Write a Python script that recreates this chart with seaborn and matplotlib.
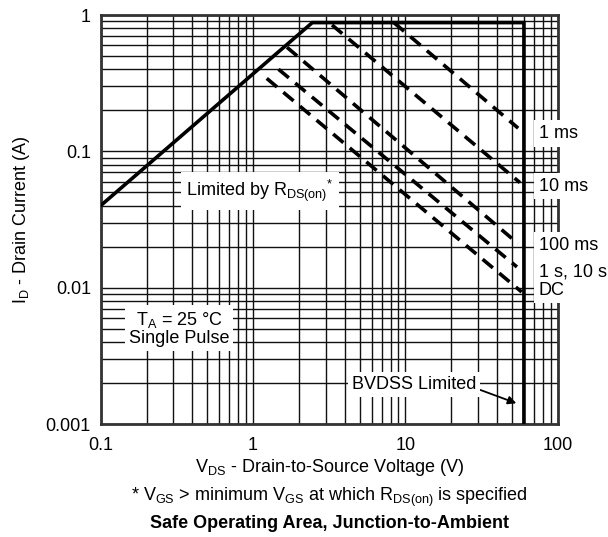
import numpy as np
import pandas as pd
import matplotlib
matplotlib.use("Agg")
import matplotlib.pyplot as plt
import seaborn as sns

# ---- data ----
soa_v = [0.1, 2.45, 60.0, 60.0]
soa_i = [0.04, 0.88, 0.88, 0.001]

pulse_labels = ["1 ms", "10 ms", "100 ms", "1 s, 10 s", "DC"]
pulse_v_start = [8.4, 3.3, 1.67, 1.47, 1.23]
pulse_i_start = [0.88, 0.845, 0.58, 0.40, 0.343]
pulse_v_end = [55.0, 56.5, 55.0, 54.0, 58.0]
pulse_i_end = [0.148, 0.059, 0.021, 0.0142, 0.0093]

x_ticks = [0.1, 1, 10, 100]
x_tick_labels = ["0.1", "1", "10", "100"]
y_ticks = [0.001, 0.01, 0.1, 1]
y_tick_labels = ["0.001", "0.01", "0.1", "1"]

sns.set_style("white")
plt.rcParams["font.family"] = ["Liberation Sans", "DejaVu Sans"]
plt.rcParams["mathtext.fontset"] = "custom"
plt.rcParams["mathtext.rm"] = "Liberation Sans"
plt.rcParams["mathtext.it"] = "Liberation Sans:italic"
plt.rcParams["mathtext.bf"] = "Liberation Sans:bold"
plt.rcParams["mathtext.default"] = "regular"
plt.rcParams["text.color"] = "black"
plt.rcParams["axes.labelcolor"] = "black"
plt.rcParams["xtick.color"] = "black"
plt.rcParams["ytick.color"] = "black"

fig = plt.figure(figsize=(6.08, 5.37), dpi=100)
ax = fig.add_axes([0.1656, 0.2104, 0.9173 - 0.1656, 0.972 - 0.2104])
ax.set_xscale("log")
ax.set_yscale("log")
ax.set_xlim(0.1, 100)
ax.set_ylim(0.001, 1)

ax.grid(True, which="both", color="#111111", lw=1.0)
ax.set_axisbelow(True)
for s in ax.spines.values():
    s.set_color("#333333")
    s.set_linewidth(2.0)

# boundary
df_soa = pd.DataFrame({"V": soa_v, "I": soa_i})
sns.lineplot(data=df_soa, x="V", y="I", ax=ax, sort=False, estimator=None,
             color="black", lw=2.6, solid_joinstyle="miter", zorder=4)

# pulse lines
for lab, v0, i0, v1, i1 in zip(pulse_labels, pulse_v_start, pulse_i_start,
                               pulse_v_end, pulse_i_end):
    d = pd.DataFrame({"V": [v0, v1], "I": [i0, i1]})
    sns.lineplot(data=d, x="V", y="I", ax=ax, sort=False, estimator=None,
                 color="black", lw=2.6, linestyle=(0, (3.7, 2.3)), zorder=3)

ax.set_xticks(x_ticks)
ax.set_xticklabels(x_tick_labels)
ax.set_yticks(y_ticks)
ax.set_yticklabels(y_tick_labels)
ax.tick_params(which="both", length=0, labelsize=13, colors="black")
ax.tick_params(axis="x", pad=9)
ax.tick_params(axis="y", pad=7)

ax.set_xlabel("")
ax.set_ylabel("I$_{D}$ - Drain Current (A)", fontsize=13, labelpad=10)

# right-side labels: white boxes first, then text on top
lab_y = [0.1356, 0.0556, 0.0205, 0.0131, 0.0096]
for lab, yy in zip(pulse_labels, lab_y):
    ax.text(75, yy, lab, ha="left", va="center", fontsize=13, color="none",
            bbox=dict(facecolor="white", edgecolor="none", pad=3.5),
            zorder=6, clip_on=False)
for lab, yy in zip(pulse_labels, lab_y):
    ax.text(75, yy, lab, ha="left", va="center", fontsize=13,
            zorder=7, clip_on=False)

ax.text(1.11, 0.051, "Limited by R$_{DS(on)}{}^{*}$", ha="center", va="center",
        fontsize=13, bbox=dict(facecolor="white", edgecolor="none", pad=4), zorder=5)
ax.text(0.327, 0.0050, "T$_{A}$ = 25 °C\nSingle Pulse", ha="center", va="center",
        fontsize=13, linespacing=1.0,
        bbox=dict(facecolor="white", edgecolor="none", pad=3), zorder=5)
ax.annotate("BVDSS Limited", xy=(53.5, 0.00142), xytext=(11.4, 0.00196),
            ha="center", va="center", fontsize=13,
            bbox=dict(facecolor="white", edgecolor="none", pad=3), zorder=5,
            arrowprops=dict(arrowstyle="-|>", color="black", lw=1.3,
                            mutation_scale=12, relpos=(1.0, 0.25),
                            shrinkA=0, shrinkB=0))

fig.text(0.542, 1 - 468 / 537, "V$_{DS}$ - Drain-to-Source Voltage (V)",
         ha="center", va="center", fontsize=13)
fig.text(0.542, 1 - 497 / 537,
         "* V$_{GS}$ > minimum V$_{GS}$ at which R$_{DS(on)}$ is specified",
         ha="center", va="center", fontsize=13)
fig.text(0.542, 1 - 524 / 537, "Safe Operating Area, Junction-to-Ambient",
         ha="center", va="center", fontsize=13, fontweight="bold")

fig.savefig("out.png", dpi=100)
